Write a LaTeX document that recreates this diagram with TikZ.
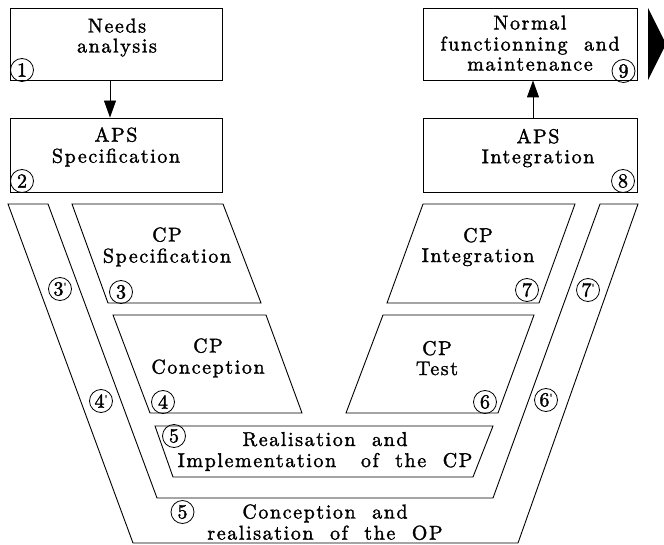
\documentclass[tikz,border=0pt]{standalone}
\usepackage{fontspec}
\setmainfont{lmroman10-regular.otf}[LetterSpace=8, FakeBold=1.6]
\newfontfamily\numfont{lmroman10-regular.otf}[FakeBold=1.8]
\usetikzlibrary{arrows.meta}
\newcommand\myprime{\raisebox{5pt}{\fontsize{11}{11}\selectfont'}}
\begin{document}
\begin{tikzpicture}[x=1pt,y=-1pt,
  box/.style={draw, line width=0.9pt, minimum width=212pt, minimum height=72pt, inner sep=0pt},
  lbl/.style={font=\fontsize{20}{20}\selectfont, align=center, inner sep=0pt},
  num/.style={draw, circle, line width=0.8pt, minimum size=23pt, inner sep=0pt, font=\numfont\fontsize{20}{20}\selectfont},
  arr/.style={line width=0.9pt, -{Triangle[length=17pt,width=12pt]}},
  shp/.style={draw, line width=0.9pt, line join=miter}]
\useasboundingbox (0,0) rectangle (664,545);
\clip (0,0) rectangle (664,545);
% top boxes
\node[box] (b1) at (116,44) {};
\node[box, minimum height=74pt] (b2) at (116,155) {};
\node[box, minimum width=214pt] (b9) at (530,44) {};
\node[box, minimum width=214pt, minimum height=74pt] (b8) at (530,155) {};
\draw[arr] ([xshift=-6pt]b1.south) -- ([xshift=-6pt]b2.north);
\draw[arr] ([xshift=3pt]b8.north) -- ([xshift=3pt]b9.south);
\fill (648,8) -- (648,80) -- (666,44) -- cycle;
% V outer strip
\draw[shp] (8,204) -- (48,204) -- (157,498) -- (493,498) -- (600,204) -- (638,204) -- (518,543) -- (133,543) -- cycle;
% parallelograms
\draw[shp] (72,204) -- (223,204) -- (261,303) -- (108,303) -- cycle;
\draw[shp] (113,315) -- (266,315) -- (302,413) -- (150,413) -- cycle;
\draw[shp] (423,204) -- (575,204) -- (539,303) -- (387,303) -- cycle;
\draw[shp] (383,315) -- (534,315) -- (498,413) -- (346,413) -- cycle;
\draw[shp] (155,426) -- (493,426) -- (473,477) -- (173,477) -- cycle;
% labels
\node[lbl] (t1) at (117,38.5) {\strut Needs\\\strut analysis};
\node[lbl] (t2) at (116,148) {\strut APS\\\strut Specification};
\node[lbl] (t9) at (530,46) {\strut Normal\\\strut functionning\ \ and\\\strut maintenance};
\node[lbl] (t8) at (538,149) {\strut APS\\\strut Integration};
\node[lbl] (t3) at (167,248) {\strut CP\\\strut Specification};
\node[lbl] (t7) at (478,248) {\strut CP\\\strut Integration};
\node[lbl] (t4) at (208,359) {\strut CP\\\strut Conception};
\node[lbl] (t6) at (437,361) {\strut CP\\\strut Test};
\node[lbl] (t5a) at (325,452.5) {\strut Realisation\ \ and\\\strut Implementation\ \ \ of\ \ the\ \ CP};
\node[lbl] (t5b) at (325,525) {\strut Conception\ \ and\\\strut realisation\ \ of\ \ the\ \ OP};
% circled numbers
\node[num] (c1) at (22,70) {1};
\node[num] (c2) at (22,181) {2};
\node[num] (c9) at (623.5,71) {9};
\node[num] (c8) at (623,181) {8};
\node[num] (c3) at (121,292) {3};
\node[num] (c3p) at (60,289) {3\myprime};
\node[num] (c4) at (163,402) {4};
\node[num] (c4p) at (101,401) {4\myprime};
\node[num] (c7) at (527,290) {7};
\node[num] (c7p) at (588,290) {7\myprime};
\node[num] (c6) at (485,402) {6};
\node[num] (c6p) at (546,400) {6\myprime};
\node[num] (c5i) at (174,436) {5};
\node[num] (c5o) at (182.5,512) {5};
\end{tikzpicture}
\end{document}
